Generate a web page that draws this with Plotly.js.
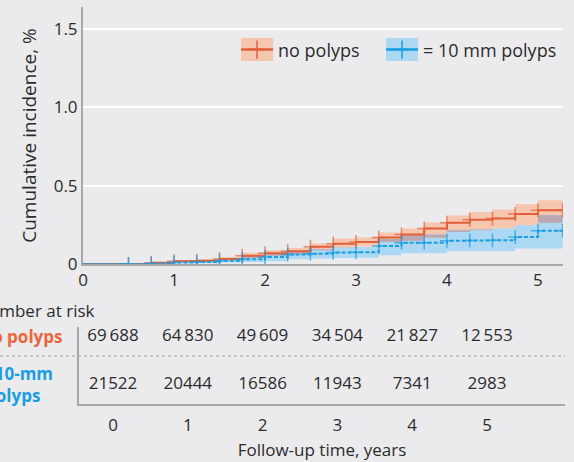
<!DOCTYPE html>
<html>
<head>
<meta charset="utf-8">
<script src="https://cdn.plot.ly/plotly-3.0.1.min.js"></script>
<style>html,body{margin:0;padding:0;background:#ebebee;}#chart{width:574px;height:462px;}</style>
</head>
<body>
<div id="chart"></div>
<script>
// ---- data ----
const times = [0,0.25,0.5,0.75,1.0,1.25,1.5,1.75,2.0,2.25,2.5,2.75,3.0,3.25,3.5,3.75,4.0,4.25,4.5,4.75,5.0,5.27];
const noPolyps   = [0,0,0,0.008,0.018,0.02,0.032,0.052,0.068,0.082,0.11,0.13,0.14,0.17,0.188,0.227,0.263,0.282,0.29,0.319,0.344,0.344];
const noPolypsLo = [0,0,0,0.003,0.011,0.013,0.022,0.038,0.052,0.064,0.088,0.104,0.112,0.14,0.148,0.167,0.205,0.215,0.227,0.248,0.263,0.263];
const noPolypsHi = [0,0,0.004,0.015,0.026,0.03,0.045,0.072,0.088,0.102,0.131,0.163,0.169,0.201,0.227,0.265,0.31,0.333,0.349,0.381,0.408,0.408];
const polyps     = [0,0,0,0.003,0.01,0.012,0.02,0.03,0.045,0.06,0.066,0.073,0.075,0.115,0.136,0.136,0.148,0.15,0.151,0.173,0.212,0.212];
const polypsLo   = [0,0,0,0,0.004,0.005,0.01,0.012,0.018,0.03,0.035,0.038,0.04,0.056,0.068,0.068,0.082,0.082,0.082,0.099,0.099,0.099];
const polypsHi   = [0,0.002,0.006,0.012,0.022,0.025,0.035,0.052,0.068,0.088,0.095,0.105,0.108,0.16,0.184,0.188,0.216,0.22,0.227,0.248,0.312,0.312];

const seriesNames = ['no polyps', '= 10 mm polyps'];
const yTickVals = [0, 0.5, 1.0, 1.5];
const yTickText = ['0', '0.5', '1.0', '1.5'];
const xTickVals = [0, 1, 2, 3, 4, 5];

const riskTimes = [0, 1, 2, 3, 4, 5];
const riskNoPolyps = ['69\u2009688','64\u2009830','49\u2009609','34\u2009504','21\u2009827','12\u2009553'];
const riskPolyps = ['21522','20444','16586','11943','7341','2983'];

// ---- styles ----
const ORANGE = '#e2603a', BLUE = '#1b9de2';
const ORANGE_FILL = '#f6c6ae', BLUE_FILL = '#acd8f3', OVERLAP_FILL = '#baa7b1';
const BG = '#ebebee', AXIS = '#a8a8a8', TXT = '#2b2b2b';
const FONT = 'Open Sans, sans-serif';

const overlapLo = noPolypsLo.map((v, i) => Math.max(v, polypsLo[i]));
const overlapHi = overlapLo.map((v, i) => Math.max(v, Math.min(noPolypsHi[i], polypsHi[i])));
const markerSizes = times.map(t => t >= 0.5 ? 10 : 0);

function band(lo, hi, color) {
  return [
    {x: times, y: lo, type: 'scatter', mode: 'lines', line: {width: 0, shape: 'hv'}, showlegend: false, hoverinfo: 'skip'},
    {x: times, y: hi, type: 'scatter', mode: 'lines', line: {width: 0, shape: 'hv'}, fill: 'tonexty', fillcolor: color, showlegend: false, hoverinfo: 'skip'}
  ];
}

const traces = [
  ...band(noPolypsLo, noPolypsHi, ORANGE_FILL),
  ...band(polypsLo, polypsHi, BLUE_FILL),
  ...band(overlapLo, overlapHi, OVERLAP_FILL),
  {x: times, y: noPolyps, type: 'scatter', mode: 'lines+markers', name: seriesNames[0], showlegend: false,
   line: {color: ORANGE, width: 2, shape: 'hv'},
   marker: {symbol: 'cross-thin', size: markerSizes, color: ORANGE, line: {color: ORANGE, width: 1.5}}},
  {x: times, y: polyps, type: 'scatter', mode: 'lines+markers', name: seriesNames[1], showlegend: false,
   line: {color: BLUE, width: 2, shape: 'hv', dash: '4px,2px'},
   marker: {symbol: 'cross-thin', size: markerSizes, color: BLUE, line: {color: BLUE, width: 1.5}}},
  // legend entries
  {x: [null], y: [null], type: 'scatter', mode: 'lines+markers', name: seriesNames[0], legend: 'legend',
   line: {color: ORANGE, width: 2.5}, marker: {symbol: 'cross-thin', size: 13, color: ORANGE, line: {color: ORANGE, width: 1.5}}},
  {x: [null], y: [null], type: 'scatter', mode: 'lines+markers', name: seriesNames[1], legend: 'legend2',
   line: {color: BLUE, width: 2.5}, marker: {symbol: 'cross-thin', size: 13, color: BLUE, line: {color: BLUE, width: 1.5}}},
  // number at risk table
  {x: riskTimes, y: riskTimes.map(() => 0.877), xaxis: 'x2', yaxis: 'y2', type: 'scatter', mode: 'text',
   text: riskNoPolyps, textfont: {family: FONT, size: 17, color: TXT}, showlegend: false, hoverinfo: 'skip'},
  {x: riskTimes, y: riskTimes.map(() => 0.253), xaxis: 'x2', yaxis: 'y2', type: 'scatter', mode: 'text',
   text: riskPolyps, textfont: {family: FONT, size: 17, color: TXT}, showlegend: false, hoverinfo: 'skip'}
];

const W = 565, H = 462; // paper size in px (margin l=0, r=9)
const legendBase = {orientation: 'h', xanchor: 'left', y: 0.892, yanchor: 'middle', itemwidth: 32,
                    bgcolor: 'rgba(0,0,0,0)', font: {family: FONT, size: 18, color: TXT}};
const legendBox = (x0, color) => ({type: 'rect', xref: 'paper', yref: 'paper', layer: 'above',
  x0: x0 / W, x1: (x0 + 32) / W, y0: (H - 61) / H, y1: (H - 38) / H, fillcolor: color, line: {width: 0}});
const layout = {
  width: 574, height: 462,
  margin: {l: 0, r: 9, t: 0, b: 0, autoexpand: false},
  paper_bgcolor: BG, plot_bgcolor: BG,
  font: {family: FONT, size: 17, color: TXT},
  showlegend: true,
  legend: Object.assign({}, legendBase, {x: 236 / W}),
  legend2: Object.assign({}, legendBase, {x: 381 / W}),
  xaxis: {domain: [83 / W, 563 / W], anchor: 'y', range: [0, 5.275], tickvals: xTickVals,
          showgrid: false, zeroline: false, showline: true, linecolor: AXIS, linewidth: 2, ticks: '',
          tickfont: {size: 17}, automargin: false},
  yaxis: {domain: [198 / H, 455 / H], anchor: 'x', range: [0, 1.642], tickvals: yTickVals, ticktext: yTickText,
          showgrid: true, gridcolor: '#ffffff', gridwidth: 2, zeroline: false, showline: true, linecolor: AXIS, linewidth: 2,
          ticks: '', tickfont: {size: 17}, automargin: false,
          title: {text: 'Cumulative incidence, %', font: {size: 19}, standoff: 12}},
  xaxis2: {domain: [79 / W, 1], anchor: 'y2', range: [-0.4545, 6.043], tickvals: riskTimes,
           showgrid: false, zeroline: false, showline: true, linecolor: AXIS, linewidth: 2, ticks: '',
           tickfont: {size: 17}, ticklabelstandoff: 5, automargin: false,
           title: {text: 'Follow-up time, years', font: {size: 17}, standoff: 9}},
  yaxis2: {domain: [58 / H, 135 / H], anchor: 'x2', range: [0, 1], showgrid: false, zeroline: false,
           showline: true, linecolor: AXIS, linewidth: 2, showticklabels: false, ticks: '', automargin: false},
  shapes: [
    {type: 'line', xref: 'paper', yref: 'y2', x0: 0, x1: 1, y0: 0.623, y1: 0.623,
     line: {color: '#a0a0a0', width: 1, dash: 'dot'}},
    legendBox(241, ORANGE_FILL),
    legendBox(386, BLUE_FILL)
  ],
  annotations: [
    {xref: 'paper', yref: 'paper', x: 97 / W, y: (H - 310) / H, xanchor: 'right', yanchor: 'middle',
     text: 'Number at risk', showarrow: false, font: {size: 17, color: TXT}},
    {xref: 'paper', yref: 'paper', x: 64 / W, y: (H - 336.5) / H, xanchor: 'right', yanchor: 'middle',
     text: '<b>no polyps</b>', showarrow: false, font: {size: 17, color: '#e8673b'}},
    {xref: 'paper', yref: 'paper', x: 55 / W, y: (H - 384) / H, xanchor: 'right', yanchor: 'middle', align: 'left',
     text: '<b>\u226510-mm<br>polyps</b>', showarrow: false, font: {size: 17, color: '#1b9de2'}}
  ]
};

Plotly.newPlot('chart', traces, layout, {displayModeBar: false, staticPlot: true});
</script>
</body>
</html>
